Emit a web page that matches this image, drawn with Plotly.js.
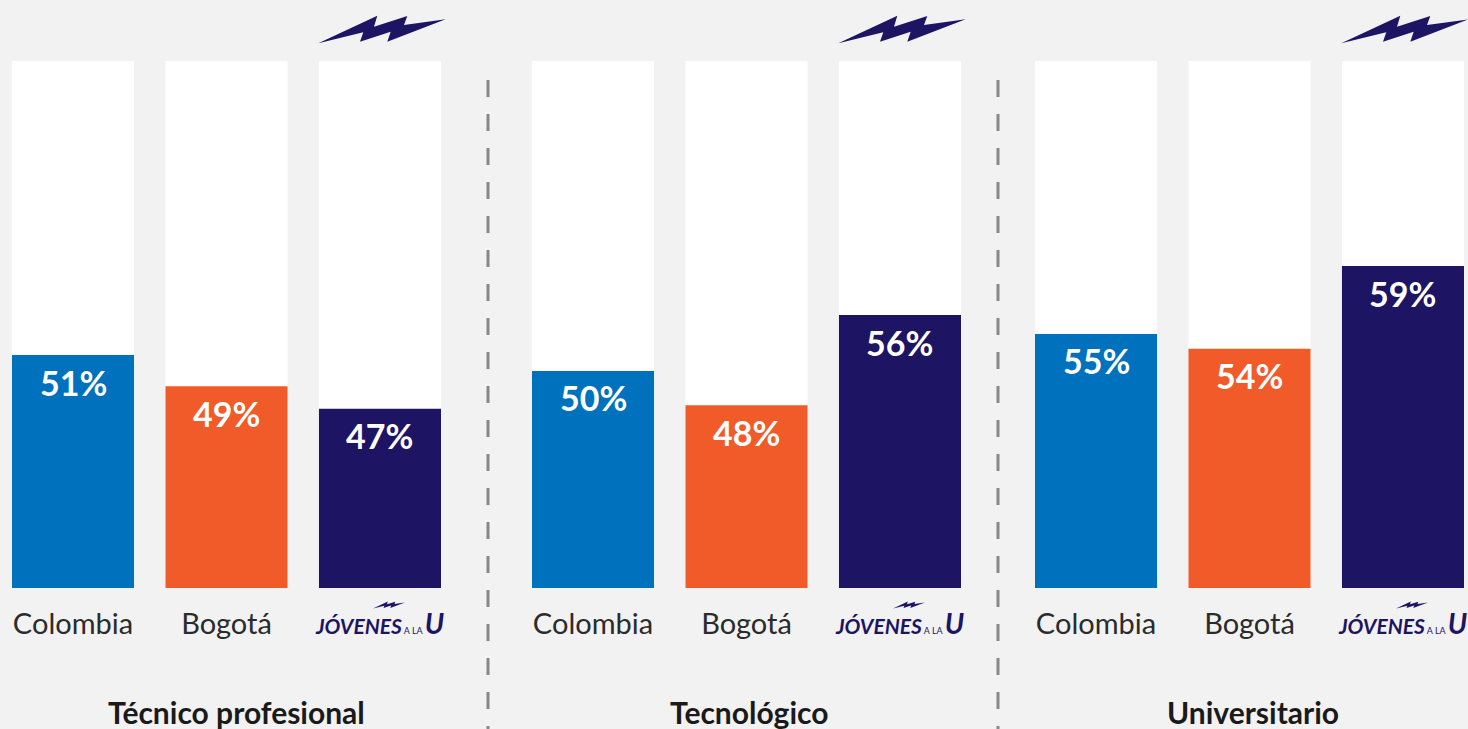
<!DOCTYPE html>
<html>
<head>
<meta charset="utf-8">
<script src="https://cdn.plot.ly/plotly-3.0.1.min.js"></script>
<style>
  html, body { margin: 0; padding: 0; background: #f2f2f2; }
  #chart { width: 1468px; height: 729px; }
</style>
</head>
<body>
<div id="chart"></div>
<script>
// ---- data ----
const groupTitles = ["Técnico profesional", "Tecnológico", "Universitario"];
const categories = ["Colombia", "Bogotá", "Jóvenes a la U"];
// percentages printed on the bars
const tecnicoValues = [51, 49, 47];
const tecnologicoValues = [50, 48, 56];
const universitarioValues = [55, 54, 59];
// drawn bar heights, as % of the white track (the infographic is not to scale)
const tecnicoHeights = [44.2, 38.3, 34.0];
const tecnologicoHeights = [41.2, 34.7, 51.8];
const universitarioHeights = [48.2, 45.4, 61.1];
const trackValue = 100;

const groupValues = [tecnicoValues, tecnologicoValues, universitarioValues];
const groupHeights = [tecnicoHeights, tecnologicoHeights, universitarioHeights];

// ---- styling ----
const W = 1468;
const barColors = ["#0071bc", "#f15a29", "#1d1464"];
const FONT = "Lato, 'Noto Sans', sans-serif";
const xRange = [-0.3975, 2.3975];
const domainsPx = [[12, 441], [532, 961], [1035, 1464]];
const titleShift = [10, 2, 3];

const logoText = '<span style="color:#1d1464;font-size:21px"><i><b>JÓVENES</b></i>' +
  '<span style="font-size:9px"> A LA </span><i><b><span style="font-size:28px">U</span></b></i></span>';
const tickTexts = ["Colombia", "Bogotá", logoText];

// lightning bolt outline (pixels, relative to anchor, y up)
const bolt = [[-61.7,17.7],[-2.7,45.3],[-6,34.3],[27.3,45],[24,36],[65.7,41.7],
              [7.3,19.3],[10.7,29.3],[-20,19.3],[-16.7,28.7]];
function boltPath(scale, dx, dy) {
  return bolt.map((p, i) => (i ? 'L' : 'M') +
    ((p[0] - 2) * scale + dx).toFixed(2) + ',' + ((p[1] - 31.5) * scale + dy).toFixed(2)).join(' ') + ' Z';
}

const data = [];
const layout = {
  width: W, height: 729,
  margin: {l: 0, r: 0, t: 61, b: 141, pad: 0},
  paper_bgcolor: "#f2f2f2",
  plot_bgcolor: "#f2f2f2",
  barmode: "overlay",
  bargap: 0.205,
  showlegend: false,
  yaxis: {range: [0, 100], visible: false, fixedrange: true},
  annotations: [],
  shapes: []
};

groupTitles.forEach((title, g) => {
  const xa = g === 0 ? "x" : "x" + (g + 1);
  const axKey = g === 0 ? "xaxis" : "xaxis" + (g + 1);
  layout[axKey] = {
    type: "category",
    categoryorder: "array",
    categoryarray: categories,
    domain: [domainsPx[g][0] / W, domainsPx[g][1] / W],
    range: xRange,
    anchor: "y",
    showgrid: false, zeroline: false, showline: false, ticks: "",
    tickangle: 0,
    tickvals: categories,
    ticktext: tickTexts,
    tickfont: {family: FONT, size: 29, color: "#2b2b2b"},
    ticklabelstandoff: 16,
    fixedrange: true
  };
  data.push({
    type: "bar", x: categories, y: categories.map(() => trackValue),
    xaxis: xa, yaxis: "y",
    marker: {color: "#ffffff", line: {width: 0}}, hoverinfo: "skip"
  });
  data.push({
    type: "bar", x: categories, y: groupHeights[g],
    xaxis: xa, yaxis: "y",
    marker: {color: barColors, line: {width: 0}},
    customdata: groupValues[g],
    hovertemplate: "%{x}: %{customdata}%<extra></extra>"
  });
  groupValues[g].forEach((v, i) => {
    layout.annotations.push({
      xref: xa, yref: "y", x: categories[i], y: groupHeights[g][i],
      text: "<b>" + v + "%</b>", showarrow: false,
      yanchor: "middle", yshift: -27,
      font: {family: FONT, size: 34, color: "#ffffff"}
    });
  });
  layout.annotations.push({
    xref: xa + " domain", yref: "paper", x: 0.5, y: -0.2353,
    xanchor: "center", yanchor: "middle", xshift: titleShift[g],
    text: "<b>" + title + "</b>", showarrow: false,
    font: {family: FONT, size: 30, color: "#1a1a1a"}
  });
  const anchorX = (2 - xRange[0]) / (xRange[1] - xRange[0]);
  // big bolt above the Jóvenes a la U bar
  layout.shapes.push({
    type: "path", xref: xa + " domain", yref: "paper",
    xsizemode: "pixel", ysizemode: "pixel", xanchor: anchorX, yanchor: 1,
    path: boltPath(1, 2, 31.5), fillcolor: "#1d1464", line: {width: 0}
  });
  // small bolt on the logo
  layout.shapes.push({
    type: "path", xref: xa + " domain", yref: "paper",
    xsizemode: "pixel", ysizemode: "pixel", xanchor: anchorX, yanchor: 0,
    path: boltPath(0.25, 9, -17), fillcolor: "#1d1464", line: {width: 0}
  });
});

// dashed separators
[488, 998].forEach(px => {
  layout.shapes.push({
    type: "line", xref: "paper", yref: "paper",
    x0: px / W, x1: px / W, y0: (588 - 80) / 527, y1: (588 - 740) / 527,
    line: {color: "#888888", width: 3, dash: "17px,17px"}
  });
});

Plotly.newPlot("chart", data, layout, {displayModeBar: false, staticPlot: true});
</script>
</body>
</html>
